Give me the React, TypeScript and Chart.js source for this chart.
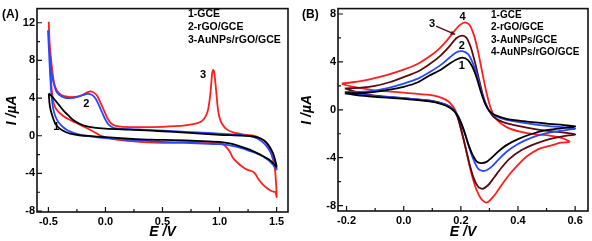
import React, { useEffect, useRef } from "react";
import { Chart, registerables } from "chart.js";

Chart.register(...registerables);

const FONT = "Arial, 'Liberation Sans', Helvetica, sans-serif";

// ---------------- Panel A data ----------------
const A_X_TICKS = [-0.5, 0, 0.5, 1, 1.5];
const A_X_MINOR = [-0.25, 0.25, 0.75, 1.25];
const A_Y_TICKS = [-8, -4, 0, 4, 8, 12];
const A_Y_MINOR = [-6, -2, 2, 6, 10];
const A_LEGEND = ["1-GCE", "2-rGO/GCE", "3-AuNPs/rGO/GCE"];
const A_CURVE_LABELS: [string, number, number][] = [
  ["1", -0.43, 0.95],
  ["2", -0.167, 3.42],
  ["3", 0.856, 6.42],
];

const A_GCE: [number, number][] = [
  [-0.497, 4.5], [-0.48, 4.3], [-0.45, 3.9], [-0.41, 3.3], [-0.37, 2.7], [-0.32, 2.1],
  [-0.28, 1.65], [-0.23, 1.3], [-0.18, 1.05], [-0.1, 0.85], [0.0, 0.75], [0.2, 0.65],
  [0.4, 0.55], [0.6, 0.4], [0.8, 0.25], [1.0, 0.1], [1.2, 0.0], [1.3, -0.1], [1.36, -0.3],
  [1.41, -0.7], [1.44, -1.2], [1.47, -1.9], [1.49, -2.7], [1.5, -3.3],
  [1.47, -2.9], [1.43, -2.5], [1.38, -2.15], [1.33, -1.85], [1.27, -1.5], [1.2, -1.2],
  [1.1, -0.85], [1.0, -0.65], [0.8, -0.55], [0.6, -0.47], [0.4, -0.42], [0.2, -0.3],
  [0.0, -0.15], [-0.15, -0.02], [-0.23, 0.05], [-0.3, 0.2], [-0.35, 0.4], [-0.4, 0.75],
  [-0.44, 1.3], [-0.46, 1.9], [-0.48, 2.7], [-0.49, 3.4], [-0.497, 4.5],
];

const A_RGO: [number, number][] = [
  [-0.504, 11.2], [-0.495, 9.5], [-0.485, 8.0], [-0.47, 6.5], [-0.45, 5.4], [-0.43, 4.7],
  [-0.4, 4.3], [-0.36, 4.05], [-0.31, 4.0], [-0.25, 4.1], [-0.2, 4.3], [-0.16, 4.45],
  [-0.12, 4.35], [-0.09, 4.0], [-0.06, 3.3], [-0.03, 2.5], [0.0, 1.7], [0.03, 1.15],
  [0.07, 0.85], [0.12, 0.75], [0.3, 0.65], [0.5, 0.55], [0.7, 0.4], [0.9, 0.3], [1.1, 0.15],
  [1.25, 0.0], [1.33, -0.3], [1.39, -0.8], [1.43, -1.4], [1.46, -2.1], [1.49, -3.0], [1.5, -3.6],
  [1.47, -3.1], [1.43, -2.6], [1.38, -2.2], [1.32, -1.85], [1.26, -1.6], [1.2, -1.35],
  [1.1, -1.05], [1.0, -0.9], [0.8, -0.8], [0.5, -0.65], [0.3, -0.5], [0.1, -0.35],
  [-0.05, -0.2], [-0.15, -0.05], [-0.22, 0.1], [-0.28, 0.3], [-0.33, 0.55], [-0.37, 0.9],
  [-0.41, 1.4], [-0.44, 2.1], [-0.46, 3.0], [-0.475, 4.6], [-0.485, 6.5], [-0.495, 9.0],
  [-0.504, 11.2],
];

const A_AU_RGO: [number, number][] = [
  [-0.497, 12.1], [-0.49, 10.0], [-0.48, 8.5], [-0.465, 6.8], [-0.45, 5.6], [-0.43, 4.9],
  [-0.4, 4.45], [-0.36, 4.2], [-0.31, 4.1], [-0.25, 4.15], [-0.2, 4.35], [-0.16, 4.6],
  [-0.13, 4.7], [-0.1, 4.55], [-0.07, 4.2], [-0.04, 3.4], [-0.01, 2.6], [0.02, 1.8],
  [0.05, 1.3], [0.09, 1.05], [0.15, 0.95], [0.3, 0.9], [0.5, 0.95], [0.7, 1.1], [0.8, 1.3],
  [0.85, 1.6], [0.88, 2.1], [0.9, 2.8], [0.92, 4.5], [0.935, 6.6], [0.945, 7.0], [0.955, 6.6],
  [0.97, 4.8], [0.985, 2.9], [1.0, 1.9], [1.02, 1.3], [1.06, 0.7], [1.12, 0.35], [1.2, 0.15],
  [1.3, 0.0], [1.36, -0.3], [1.4, -0.6], [1.44, -1.4], [1.465, -2.4], [1.485, -3.5],
  [1.495, -5.0], [1.5, -6.5],
  [1.49, -6.0], [1.46, -5.9], [1.42, -5.6], [1.38, -5.2], [1.34, -4.6], [1.31, -4.0],
  [1.28, -3.75], [1.24, -3.6], [1.2, -3.3], [1.16, -2.9], [1.12, -2.4], [1.09, -1.7],
  [1.06, -1.2], [1.03, -0.9], [1.0, -0.75], [0.9, -0.65], [0.7, -0.7], [0.5, -0.75],
  [0.3, -0.65], [0.15, -0.5], [0.05, -0.3], [-0.05, 0.05], [-0.1, 0.4], [-0.17, 0.85],
  [-0.23, 1.2], [-0.28, 1.5], [-0.33, 1.8], [-0.37, 2.1], [-0.41, 2.5], [-0.44, 3.0],
  [-0.46, 3.8], [-0.475, 5.5], [-0.485, 8.0], [-0.493, 10.5], [-0.497, 12.1],
];

// ---------------- Panel B data ----------------
const B_X_TICKS = [-0.2, 0, 0.2, 0.4, 0.6];
const B_X_MINOR = [-0.1, 0.1, 0.3, 0.5];
const B_Y_TICKS = [-8, -4, 0, 4, 8];
const B_Y_MINOR = [-6, -2, 2, 6];
const B_LEGEND = ["1-GCE", "2-rGO/GCE", "3-AuNPs/GCE", "4-AuNPs/rGO/GCE"];
const B_CURVE_LABELS: [string, number, number][] = [
  ["1", 0.203, 3.67],
  ["2", 0.203, 5.29],
  ["3", 0.099, 7.18],
  ["4", 0.206, 7.77],
];
const B_ARROW: [number, number][] = [[0.113, 6.99], [0.18, 6.29]];

const B_GCE: [number, number][] = [
  [-0.206, 1.38], [-0.15, 1.4], [-0.1, 1.5], [-0.05, 1.68], [0.0, 1.92], [0.05, 2.3],
  [0.09, 2.86], [0.13, 3.35], [0.16, 3.85], [0.185, 4.2], [0.205, 4.35], [0.225, 4.15],
  [0.24, 3.6], [0.255, 2.7], [0.27, 1.5], [0.285, 0.5], [0.3, -0.1], [0.32, -0.45],
  [0.36, -0.75], [0.42, -0.95], [0.5, -1.15], [0.6, -1.38],
  [0.55, -1.55], [0.5, -1.7], [0.45, -2.0], [0.4, -2.45], [0.36, -2.95], [0.33, -3.5],
  [0.31, -3.95], [0.29, -4.35], [0.27, -4.45], [0.255, -4.3], [0.24, -3.7], [0.225, -2.8],
  [0.21, -1.7], [0.195, -0.8], [0.18, -0.2], [0.16, 0.2], [0.13, 0.5], [0.09, 0.7],
  [0.0, 0.92], [-0.1, 1.08], [-0.16, 1.2], [-0.206, 1.38],
];

const B_RGO: [number, number][] = [
  [-0.206, 1.5], [-0.15, 1.5], [-0.1, 1.6], [-0.05, 1.85], [0.0, 2.19], [0.05, 2.6],
  [0.09, 3.13], [0.13, 3.75], [0.16, 4.35], [0.185, 4.8], [0.205, 4.9], [0.225, 4.65],
  [0.24, 4.0], [0.255, 3.0], [0.27, 1.7], [0.285, 0.55], [0.3, -0.1], [0.32, -0.5],
  [0.36, -0.85], [0.42, -1.1], [0.5, -1.35], [0.6, -1.56],
  [0.55, -1.75], [0.5, -1.95], [0.45, -2.3], [0.4, -2.85], [0.36, -3.5], [0.33, -4.2],
  [0.31, -4.7], [0.29, -5.05], [0.275, -5.1], [0.26, -4.9], [0.245, -4.2], [0.23, -3.2],
  [0.215, -2.0], [0.2, -1.0], [0.185, -0.3], [0.165, 0.2], [0.13, 0.55], [0.09, 0.75],
  [0.0, 0.98], [-0.1, 1.15], [-0.16, 1.3], [-0.206, 1.5],
];

const B_AU: [number, number][] = [
  [-0.206, 1.78], [-0.15, 1.85], [-0.1, 2.0], [-0.05, 2.3], [0.0, 2.73], [0.05, 3.2],
  [0.09, 3.8], [0.13, 4.55], [0.16, 5.3], [0.185, 6.0], [0.205, 6.2], [0.22, 6.0],
  [0.235, 5.2], [0.25, 3.9], [0.265, 2.4], [0.28, 1.0], [0.295, 0.1], [0.315, -0.6],
  [0.35, -1.05], [0.4, -1.35], [0.47, -1.65], [0.54, -1.85], [0.6, -2.05],
  [0.56, -2.2], [0.51, -2.45], [0.46, -2.85], [0.41, -3.4], [0.37, -4.1], [0.34, -4.9],
  [0.315, -5.7], [0.295, -6.3], [0.275, -6.6], [0.26, -6.4], [0.245, -5.7], [0.23, -4.5],
  [0.215, -3.0], [0.2, -1.6], [0.188, -0.6], [0.175, 0.0], [0.16, 0.3], [0.148, 0.43],
  [0.12, 0.65], [0.09, 0.79], [0.0, 0.97], [-0.1, 1.18], [-0.16, 1.45], [-0.206, 1.78],
];

const B_AU_RGO: [number, number][] = [
  [-0.217, 2.19], [-0.18, 2.3], [-0.12, 2.55], [-0.06, 2.9], [0.0, 3.35], [0.05, 3.85],
  [0.09, 4.45], [0.12, 5.0], [0.15, 5.75], [0.175, 6.5], [0.195, 7.05], [0.215, 7.3],
  [0.23, 7.1], [0.245, 6.3], [0.26, 4.9], [0.275, 3.1], [0.29, 1.4], [0.305, 0.1],
  [0.325, -0.8], [0.36, -1.45], [0.41, -1.85], [0.46, -2.05], [0.51, -2.15], [0.545, -2.3],
  [0.565, -2.46], [0.58, -2.67],
  [0.55, -2.75], [0.52, -2.95], [0.47, -3.3], [0.43, -3.9], [0.4, -4.6], [0.37, -5.4],
  [0.345, -6.2], [0.325, -6.9], [0.31, -7.35], [0.295, -7.7], [0.285, -7.72], [0.27, -7.4],
  [0.255, -6.7], [0.24, -5.6], [0.225, -4.1], [0.21, -2.5], [0.195, -1.0], [0.18, 0.0],
  [0.165, 0.5], [0.148, 0.83], [0.12, 1.1], [0.09, 1.24], [0.0, 1.43], [-0.1, 1.62],
  [-0.16, 1.85], [-0.2, 2.05], [-0.217, 2.19],
];

const BLACK = "#000000";
const BLUE = "#2748ff";
const RED = "#ff1e1e";
const BROWN = "#5a0b12";

type Spec = {
  panel: string;
  width: number;
  xMin: number; xMax: number; yMin: number; yMax: number;
  xTicks: number[]; xMinor: number[]; yTicks: number[]; yMinor: number[];
  yAxisWidth: number; xAxisHeight: number; padRight: number;
  series: { data: [number, number][]; color: string }[];
  legend: string[]; legendDx: number; legendY0: number; legendStep: number; legendSize: number;
  curveLabels: [string, number, number][];
  arrow?: [number, number][];
  panelX: number;
};

function makePlugin(spec: Spec) {
  return {
    id: "frame" + spec.panel,
    afterDraw(chart: any) {
      const { ctx, chartArea: ca, scales } = chart;
      const xs = scales.x;
      const ys = scales.y;
      ctx.save();
      // frame
      ctx.strokeStyle = "#111";
      ctx.lineWidth = 1.6;
      ctx.strokeRect(ca.left, ca.top, ca.right - ca.left, ca.bottom - ca.top);
      // inward ticks
      ctx.lineWidth = 1.2;
      ctx.beginPath();
      spec.xTicks.forEach((v) => {
        const p = xs.getPixelForValue(v);
        ctx.moveTo(p, ca.bottom); ctx.lineTo(p, ca.bottom - 5);
      });
      spec.xMinor.forEach((v) => {
        const p = xs.getPixelForValue(v);
        ctx.moveTo(p, ca.bottom); ctx.lineTo(p, ca.bottom - 3);
      });
      spec.yTicks.forEach((v) => {
        const p = ys.getPixelForValue(v);
        ctx.moveTo(ca.left, p); ctx.lineTo(ca.left + 5, p);
      });
      spec.yMinor.forEach((v) => {
        const p = ys.getPixelForValue(v);
        ctx.moveTo(ca.left, p); ctx.lineTo(ca.left + 3, p);
      });
      ctx.stroke();

      ctx.fillStyle = "#000";
      ctx.textBaseline = "middle";
      // legend text
      ctx.textAlign = "left";
      ctx.font = `bold ${spec.legendSize}px ${FONT}`;
      spec.legend.forEach((t, i) => {
        ctx.fillText(t, ca.right - spec.legendDx, spec.legendY0 + i * spec.legendStep);
      });
      // curve number labels
      ctx.textAlign = "center";
      ctx.font = `bold 11px ${FONT}`;
      spec.curveLabels.forEach(([t, e, i]) => {
        ctx.fillText(t, xs.getPixelForValue(e), ys.getPixelForValue(i));
      });
      // arrow
      if (spec.arrow) {
        const [p0, p1] = spec.arrow;
        const x0 = xs.getPixelForValue(p0[0]), y0 = ys.getPixelForValue(p0[1]);
        const x1 = xs.getPixelForValue(p1[0]), y1 = ys.getPixelForValue(p1[1]);
        ctx.strokeStyle = BROWN;
        ctx.fillStyle = BROWN;
        ctx.lineWidth = 1.3;
        ctx.beginPath(); ctx.moveTo(x0, y0); ctx.lineTo(x1, y1); ctx.stroke();
        const ang = Math.atan2(y1 - y0, x1 - x0);
        ctx.beginPath();
        ctx.moveTo(x1, y1);
        ctx.lineTo(x1 - 5 * Math.cos(ang - 0.45), y1 - 5 * Math.sin(ang - 0.45));
        ctx.lineTo(x1 - 5 * Math.cos(ang + 0.45), y1 - 5 * Math.sin(ang + 0.45));
        ctx.closePath(); ctx.fill();
      }
      // panel letter
      ctx.fillStyle = "#000";
      ctx.textAlign = "left";
      ctx.font = `bold 12px ${FONT}`;
      ctx.fillText(`(${spec.panel})`, spec.panelX, 15);
      ctx.restore();
    },
  };
}

function Panel({ spec, left }: { spec: Spec; left: number }) {
  const ref = useRef<HTMLCanvasElement | null>(null);
  useEffect(() => {
    if (!ref.current) return;
    const tickFont = { family: FONT, size: 11, weight: "bold" as const };
    const titleFont = { family: FONT, size: 14, weight: "bold" as const, style: "italic" as const };
    const chart = new Chart(ref.current, {
      type: "scatter",
      data: {
        datasets: spec.series.map((s) => ({
          data: s.data.map(([x, y]) => ({ x, y })),
          showLine: true,
          borderColor: s.color,
          backgroundColor: s.color,
          borderWidth: 1.8,
          pointRadius: 0,
          tension: 0.25,
          fill: false,
        })),
      },
      options: {
        animation: false,
        responsive: false,
        devicePixelRatio: 1,
        layout: { padding: { left: 0, right: spec.padRight, top: 2, bottom: 0 } },
        plugins: { legend: { display: false }, tooltip: { enabled: false } },
        scales: {
          x: {
            type: "linear",
            min: spec.xMin,
            max: spec.xMax,
            grid: { display: false, drawTicks: false },
            border: { display: false },
            ticks: {
              font: tickFont,
              color: "#000",
              padding: 3,
              maxRotation: 0,
              callback: (v: any) => Number(v).toFixed(1),
            },
            afterBuildTicks: (s: any) => { s.ticks = spec.xTicks.map((value) => ({ value })); },
            afterFit: (s: any) => { s.height = spec.xAxisHeight; },
            title: { display: true, text: "E /V", font: titleFont, color: "#000", padding: { top: 0, bottom: 0 } },
          },
          y: {
            type: "linear",
            min: spec.yMin,
            max: spec.yMax,
            grid: { display: false, drawTicks: false },
            border: { display: false },
            ticks: {
              font: tickFont,
              color: "#000",
              padding: 2,
              callback: (v: any) => String(Math.round(Number(v))),
            },
            afterBuildTicks: (s: any) => { s.ticks = spec.yTicks.map((value) => ({ value })); },
            afterFit: (s: any) => { s.width = spec.yAxisWidth; },
            title: { display: true, text: "I /\u00b5A", font: titleFont, color: "#000", padding: { top: 4, bottom: 0 } },
          },
        },
      },
      plugins: [makePlugin(spec)],
    });
    return () => chart.destroy();
  }, [spec]);
  return (
    <canvas
      ref={ref}
      width={spec.width}
      height={241}
      style={{ position: "absolute", left, top: 0, width: spec.width, height: 241 }}
    />
  );
}

const SPEC_A: Spec = {
  panel: "A",
  width: 295,
  xMin: -0.6, xMax: 1.6, yMin: -8.1, yMax: 13.5,
  xTicks: A_X_TICKS, xMinor: A_X_MINOR, yTicks: A_Y_TICKS, yMinor: A_Y_MINOR,
  yAxisWidth: 37, xAxisHeight: 29, padRight: 7,
  series: [
    { data: A_GCE, color: BLACK },
    { data: A_RGO, color: BLUE },
    { data: A_AU_RGO, color: RED },
  ],
  legend: A_LEGEND, legendDx: 100, legendY0: 14.5, legendStep: 13, legendSize: 10.5,
  curveLabels: A_CURVE_LABELS,
  panelX: 2,
};

const SPEC_B: Spec = {
  panel: "B",
  width: 297,
  xMin: -0.23, xMax: 0.645, yMin: -8.45, yMax: 8.45,
  xTicks: B_X_TICKS, xMinor: B_X_MINOR, yTicks: B_Y_TICKS, yMinor: B_Y_MINOR,
  yAxisWidth: 43, xAxisHeight: 30, padRight: 4,
  series: [
    { data: B_GCE, color: BLACK },
    { data: B_RGO, color: BLUE },
    { data: B_AU, color: BROWN },
    { data: B_AU_RGO, color: RED },
  ],
  legend: B_LEGEND, legendDx: 97, legendY0: 15, legendStep: 12.5, legendSize: 10,
  curveLabels: B_CURVE_LABELS,
  arrow: B_ARROW,
  panelX: 7,
};

export default function App() {
  return (
    <div style={{ position: "fixed", left: 0, top: 0, width: 592, height: 241, background: "#fff" }}>
      <Panel spec={SPEC_A} left={0} />
      <Panel spec={SPEC_B} left={295} />
    </div>
  );
}
